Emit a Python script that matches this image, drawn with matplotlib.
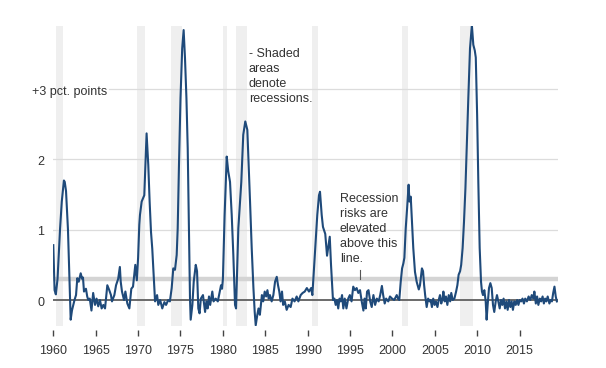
import matplotlib
matplotlib.use('Agg')
import matplotlib.pyplot as plt
from matplotlib.lines import Line2D

plt.rcParams['font.family'] = ['Liberation Sans', 'DejaVu Sans']

# ---- data -------------------------------------------------------------
years = [
    1960.0, 1960.15, 1960.3, 1960.5, 1960.65, 1960.8, 1961.0, 1961.25, 1961.35, 1961.5,
    1961.73, 1961.9, 1962.05, 1962.2, 1962.36, 1962.5, 1962.68, 1962.83, 1963.0, 1963.23,
    1963.4, 1963.5, 1963.62, 1963.85, 1964.0, 1964.13, 1964.3, 1964.5, 1964.7, 1964.92,
    1965.1, 1965.3, 1965.5, 1965.7, 1965.9, 1966.1, 1966.37, 1966.6, 1966.8, 1966.92,
    1967.2, 1967.4, 1967.65, 1967.85, 1967.95, 1968.1, 1968.34, 1968.5, 1968.73, 1968.97,
    1969.2, 1969.4, 1969.67, 1969.85, 1970.0, 1970.14, 1970.22, 1970.42, 1970.73, 1971.0,
    1971.2, 1971.36, 1971.52, 1971.67, 1971.83, 1972.0, 1972.24, 1972.38, 1972.6, 1972.85,
    1973.1, 1973.3, 1973.55, 1973.75, 1973.96, 1974.15, 1974.35, 1974.55, 1974.67, 1974.82,
    1975.0, 1975.2, 1975.37, 1975.53, 1975.7, 1975.85, 1976.0, 1976.12, 1976.2, 1976.4,
    1976.56, 1976.8, 1976.95, 1977.1, 1977.25, 1977.4, 1977.65, 1977.9, 1978.05, 1978.2,
    1978.36, 1978.5, 1978.75, 1978.9, 1979.15, 1979.4, 1979.55, 1979.78, 1979.9, 1980.0,
    1980.2, 1980.45, 1980.63, 1980.84, 1981.04, 1981.23, 1981.43, 1981.55, 1981.7, 1981.82,
    1982.0, 1982.17, 1982.4, 1982.64, 1982.88, 1983.04, 1983.2, 1983.4, 1983.6, 1983.75,
    1983.87, 1984.06, 1984.2, 1984.36, 1984.6, 1984.75, 1984.93, 1985.1, 1985.25, 1985.4,
    1985.55, 1985.75, 1985.95, 1986.15, 1986.35, 1986.5, 1986.65, 1986.8, 1986.97, 1987.1,
    1987.3, 1987.52, 1987.75, 1987.99, 1988.2, 1988.45, 1988.7, 1988.9, 1989.17, 1989.4,
    1989.65, 1989.9, 1990.15, 1990.4, 1990.55, 1990.74, 1990.94, 1991.13, 1991.33, 1991.45,
    1991.65, 1991.8, 1992.07, 1992.28, 1992.6, 1992.75, 1992.98, 1993.15, 1993.3, 1993.45,
    1993.6, 1993.75, 1993.9, 1994.05, 1994.2, 1994.37, 1994.57, 1994.78, 1994.97, 1995.17,
    1995.37, 1995.57, 1995.77, 1995.97, 1996.17, 1996.37, 1996.57, 1996.7, 1996.85, 1997.0,
    1997.17, 1997.37, 1997.55, 1997.75, 1997.95, 1998.15, 1998.37, 1998.55, 1998.75, 1998.9,
    1999.08, 1999.25, 1999.5, 1999.7, 1999.95, 2000.2, 2000.5, 2000.65, 2000.8, 2000.97,
    2001.13, 2001.28, 2001.4, 2001.56, 2001.72, 2001.9, 2002.0, 2002.15, 2002.3, 2002.45,
    2002.65, 2002.85, 2003.1, 2003.24, 2003.47, 2003.6, 2003.73, 2003.85, 2004.03, 2004.2,
    2004.37, 2004.5, 2004.65, 2004.8, 2004.97, 2005.12, 2005.3, 2005.45, 2005.6, 2005.75,
    2005.9, 2006.0, 2006.15, 2006.3, 2006.47, 2006.63, 2006.8, 2006.93, 2007.1, 2007.3,
    2007.5, 2007.65, 2007.8, 2007.97, 2008.1, 2008.27, 2008.43, 2008.6, 2008.75, 2008.94,
    2009.14, 2009.36, 2009.53, 2009.7, 2009.82, 2009.98, 2010.12, 2010.28, 2010.44, 2010.55,
    2010.67, 2010.83, 2010.99, 2011.1, 2011.22, 2011.38, 2011.54, 2011.7, 2011.85, 2012.0,
    2012.17, 2012.32, 2012.48, 2012.64, 2012.8, 2012.95, 2013.1, 2013.27, 2013.43, 2013.58,
    2013.74, 2013.9, 2014.05, 2014.2, 2014.37, 2014.53, 2014.7, 2014.85, 2015.0, 2015.17,
    2015.33, 2015.5, 2015.65, 2015.85, 2016.05, 2016.25, 2016.42, 2016.6, 2016.73, 2016.9,
    2017.05, 2017.2, 2017.37, 2017.53, 2017.7, 2017.85, 2018.0, 2018.15, 2018.3, 2018.5,
    2018.65, 2018.8, 2018.95, 2019.1, 2019.25, 2019.38,
]
values = [
    0.78, 0.14, 0.08, 0.30, 0.65, 1.02, 1.40, 1.70, 1.68, 1.55,
    1.00, 0.30, -0.28, -0.15, -0.07, 0.00, 0.07, 0.31, 0.26, 0.38,
    0.30, 0.32, 0.12, 0.16, 0.05, 0.00, 0.02, -0.15, 0.10, -0.07,
    0.02, -0.09, 0.00, -0.12, -0.07, -0.12, 0.21, 0.14, 0.07, -0.02,
    0.07, 0.21, 0.30, 0.47, 0.26, 0.12, 0.00, 0.12, -0.05, -0.12,
    0.16, 0.19, 0.50, 0.28, 0.60, 1.07, 1.21, 1.40, 1.49, 2.37,
    1.92, 1.40, 0.97, 0.73, 0.36, -0.02, 0.07, -0.07, 0.00, -0.12,
    -0.03, -0.07, 0.00, -0.02, 0.17, 0.45, 0.43, 0.64, 1.02, 1.92,
    2.87, 3.58, 3.84, 3.44, 2.87, 2.16, 1.02, 0.02, -0.28, -0.07,
    0.26, 0.50, 0.41, -0.12, -0.19, 0.02, 0.07, -0.17, -0.02, -0.12,
    0.05, -0.07, 0.12, -0.02, 0.02, -0.02, 0.07, 0.21, 0.16, 0.30,
    1.20, 2.04, 1.83, 1.68, 1.21, 0.64, -0.07, -0.12, 0.50, 1.02,
    1.35, 1.68, 2.35, 2.54, 2.42, 1.92, 1.40, 0.73, 0.17, -0.17,
    -0.36, -0.21, -0.12, -0.21, 0.07, -0.02, 0.12, 0.05, 0.14, 0.02,
    0.07, -0.02, 0.07, 0.26, 0.33, 0.21, 0.12, -0.02, 0.12, -0.07,
    -0.02, -0.14, -0.07, -0.10, 0.02, -0.02, 0.05, -0.02, 0.07, 0.10,
    0.12, 0.17, 0.12, 0.17, 0.07, 0.45, 0.83, 1.21, 1.49, 1.54,
    1.21, 1.04, 0.94, 0.63, 0.90, 0.50, 0.00, 0.02, -0.07, 0.00,
    -0.12, 0.02, -0.02, 0.07, -0.12, 0.02, -0.12, 0.02, 0.07, -0.02,
    0.19, 0.14, 0.17, 0.10, 0.14, -0.02, -0.15, 0.02, -0.12, 0.12,
    0.14, -0.02, -0.10, 0.07, -0.07, 0.02, -0.02, 0.07, 0.20, 0.07,
    -0.05, 0.02, -0.02, 0.05, 0.02, 0.00, 0.07, 0.02, 0.00, 0.26,
    0.45, 0.52, 0.60, 1.02, 1.30, 1.64, 1.40, 1.47, 1.12, 0.74,
    0.40, 0.26, 0.15, 0.21, 0.45, 0.41, 0.21, 0.07, -0.10, 0.02,
    -0.02, 0.00, -0.10, 0.02, -0.07, -0.02, -0.10, 0.00, 0.07, -0.05,
    0.02, 0.12, -0.02, 0.05, -0.07, 0.07, -0.02, 0.10, 0.00, 0.02,
    0.12, 0.21, 0.36, 0.41, 0.50, 0.74, 1.11, 1.59, 2.16, 2.87,
    3.58, 3.91, 3.63, 3.55, 3.45, 2.63, 1.68, 0.74, 0.26, 0.12,
    0.07, 0.14, -0.02, -0.28, -0.07, 0.17, 0.24, 0.17, -0.07, -0.17,
    -0.02, 0.07, -0.02, -0.12, 0.00, -0.07, 0.02, -0.12, -0.02, -0.14,
    0.00, -0.10, -0.02, -0.14, -0.02, -0.07, 0.00, -0.07, 0.00, -0.02,
    0.02, -0.05, 0.02, -0.02, 0.05, 0.00, 0.07, 0.02, 0.12, -0.05,
    0.05, -0.07, 0.02, -0.02, 0.05, -0.05, 0.02, -0.02, 0.05, -0.05,
    0.00, -0.02, 0.10, 0.19, 0.05, -0.02,
]
rec_start = [1960.33, 1969.92, 1973.83, 1980.0, 1981.5, 1990.5, 2001.17, 2007.92]
rec_end = [1961.17, 1970.83, 1975.17, 1980.5, 1982.83, 1991.17, 2001.83, 2009.5]
threshold = 0.3
grid_values = [1, 2, 3]
ytick_labels = ['1', '2', '+3 pct. points']
xtick_years = [1960, 1965, 1970, 1975, 1980, 1985, 1990, 1995, 2000, 2005, 2010, 2015]

# ---- layout -----------------------------------------------------------
W, H = 606, 368
fig = plt.figure(figsize=(W / 100, H / 100), dpi=100)

def fx(px):
    return px / W

def fy(py):
    return 1 - py / H

x_left_px, x_right_px = 53.3, 558.0
px_per_year = 8.48
zero_px, px_per_unit = 300.0, 70.3
ymin, ymax = -0.37, 3.9
top_px = zero_px - ymax * px_per_unit
bot_px = zero_px - ymin * px_per_unit

ax = fig.add_axes([fx(x_left_px), fy(bot_px), (x_right_px - x_left_px) / W,
                   (bot_px - top_px) / H])
ax.set_xlim(1960, 1960 + (x_right_px - x_left_px) / px_per_year)
ax.set_ylim(ymin, ymax)

text_col = '#333333'

for s, e in zip(rec_start, rec_end):
    ax.axvspan(s, e, color='#efefef', lw=0, zorder=0)

for g in grid_values:
    xmin = 0
    if g == 3:
        xmin = (109 - x_left_px) / (x_right_px - x_left_px)
    ax.axhline(g, xmin=xmin, color='#dcdcdc', lw=0.9, zorder=1)

ax.axhline(threshold, xmin=0.004, color='#d4d4d4', lw=3.2, zorder=1)
ax.axhline(0, color='#6a6a6a', lw=1.4, zorder=2)

ax.plot(years, values, color='#1f4a7a', lw=1.5, zorder=5, solid_joinstyle='round')

for sp in ['top', 'left', 'right']:
    ax.spines[sp].set_visible(False)
ax.spines['bottom'].set_position(('outward', 3))
ax.spines['bottom'].set_color('none')
ax.set_yticks([])
ax.set_xticks(xtick_years)
ax.set_xticklabels([str(y) for y in xtick_years])
ax.tick_params(axis='x', length=4, width=1, color='#444444', labelcolor=text_col,
               labelsize=9, pad=7)

# y labels
for g, lab in zip([0] + grid_values, ['0'] + ytick_labels):
    ypx = zero_px - g * px_per_unit + 2.5
    if g == 3:
        fig.text(fx(107), fy(ypx), lab, ha='right', va='center', fontsize=9, color=text_col)
    else:
        fig.text(fx(44.5), fy(ypx), lab, ha='right', va='center', fontsize=9, color=text_col)

fig.text(fx(249), fy(48), "- Shaded\nareas\ndenote\nrecessions.", ha='left', va='top',
         fontsize=9, color=text_col, linespacing=1.34)
fig.text(fx(340), fy(193), "Recession\nrisks are\nelevated\nabove this\nline.", ha='left',
         va='top', fontsize=9, color=text_col, linespacing=1.34)
fig.add_artist(Line2D([fx(360), fx(360)], [fy(270), fy(279)], color='#555555', lw=0.8))

fig.savefig('out.png', dpi=100, facecolor='white')
